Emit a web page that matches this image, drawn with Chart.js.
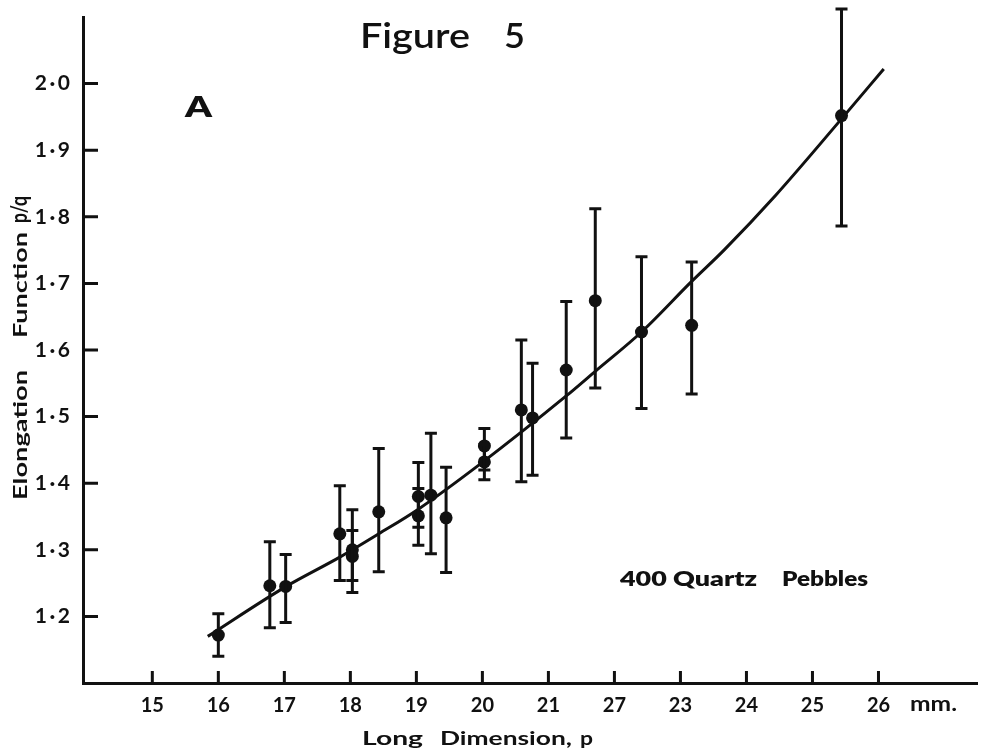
<!DOCTYPE html>
<html>
<head>
<meta charset="utf-8">
<title>Figure 5</title>
<script src="https://cdn.jsdelivr.net/npm/chart.js@4.4.1/dist/chart.umd.min.js"></script>
<style>
  html, body { margin: 0; padding: 0; background: #ffffff; }
  #wrap { position: relative; width: 984px; height: 753px; }
  canvas { display: block; }
</style>
</head>
<body>
<div id="wrap"><canvas id="chart" width="984" height="753"></canvas></div>
<script>
// Pebble groups: long dimension p (mm), mean elongation p/q, and range of each group
const pebbleP    = [16.00, 16.78, 17.02, 17.84, 18.03, 18.03, 18.43, 19.03, 19.03, 19.22, 19.45, 20.03, 20.03, 20.59, 20.76, 21.27, 21.71, 22.41, 23.17, 25.44];
const pebbleMean = [1.172, 1.246, 1.245, 1.324, 1.300, 1.290, 1.357, 1.380, 1.351, 1.382, 1.348, 1.456, 1.432, 1.510, 1.498, 1.570, 1.674, 1.627, 1.637, 1.952];
const pebbleLow  = [1.140, 1.183, 1.191, 1.254, 1.254, 1.236, 1.267, 1.334, 1.307, 1.294, 1.266, 1.420, 1.405, 1.402, 1.412, 1.468, 1.543, 1.512, 1.534, 1.786];
const pebbleHigh = [1.204, 1.312, 1.293, 1.396, 1.360, 1.329, 1.452, 1.431, 1.392, 1.475, 1.424, 1.482, 1.458, 1.615, 1.580, 1.673, 1.812, 1.740, 1.732, 2.112];

// Fitted trend of elongation against long dimension
const trendP = [15.84, 17.01, 17.84, 18.43, 19.03, 19.97, 21.27, 21.71, 22.41, 23.17, 23.66, 24.44, 25.44, 26.08];
const trendE = [1.170, 1.244, 1.289, 1.324, 1.361, 1.429, 1.531, 1.568, 1.627, 1.703, 1.750, 1.832, 1.947, 2.022];

// Axis ticks and their printed labels
const xTickValues = [15, 16, 17, 18, 19, 20, 21, 22, 23, 24, 25, 26];
const xTickLabels = ['15', '16', '17', '18', '19', '20', '21', '27', '23', '24', '25', '26'];
const yTickValues = [1.2, 1.3, 1.4, 1.5, 1.6, 1.7, 1.8, 1.9, 2.0];
const yTickLabels = ['1·2', '1·3', '1·4', '1·5', '1·6', '1·7', '1·8', '1·9', '2·0'];

const FONT = 'Lato, "DejaVu Sans", sans-serif';
const INK = '#111111';

// Draw a word stretched horizontally so it runs from x0 to x1 on the given baseline
function drawWide(ctx, text, x0, x1, baseline, font) {
  ctx.save();
  ctx.font = font;
  ctx.textAlign = 'left';
  ctx.textBaseline = 'alphabetic';
  const w = ctx.measureText(text).width;
  ctx.translate(x0, baseline);
  ctx.scale((x1 - x0) / w, 1);
  ctx.fillText(text, 0, 0);
  ctx.restore();
}

// Range bars with end caps, drawn through the chart's own scales
const rangeBars = {
  id: 'rangeBars',
  afterDatasetsDraw(chart) {
    const { ctx, scales: { x, y } } = chart;
    ctx.save();
    ctx.strokeStyle = INK;
    ctx.lineWidth = 3;
    ctx.lineCap = 'butt';
    for (let i = 0; i < pebbleP.length; i++) {
      const px = x.getPixelForValue(pebbleP[i]);
      const top = y.getPixelForValue(pebbleHigh[i]);
      const bot = y.getPixelForValue(pebbleLow[i]);
      ctx.beginPath();
      ctx.moveTo(px, top);
      ctx.lineTo(px, bot);
      ctx.moveTo(px - 6, top);
      ctx.lineTo(px + 6, top);
      ctx.moveTo(px - 6, bot);
      ctx.lineTo(px + 6, bot);
      ctx.stroke();
    }
    ctx.restore();
  }
};

// Inward tick marks and the figure's lettering
const frameText = {
  id: 'frameText',
  afterDraw(chart) {
    const { ctx, chartArea: a, scales: { x, y } } = chart;
    ctx.save();
    ctx.strokeStyle = INK;
    ctx.lineWidth = 3;
    ctx.beginPath();
    xTickValues.forEach(v => {
      const px = x.getPixelForValue(v);
      ctx.moveTo(px, a.bottom);
      ctx.lineTo(px, a.bottom - 12);
    });
    yTickValues.forEach(v => {
      const py = y.getPixelForValue(v);
      ctx.moveTo(a.left, py);
      ctx.lineTo(a.left + 15, py);
    });
    ctx.stroke();

    ctx.fillStyle = INK;

    // heading and panel letter
    drawWide(ctx, 'Figure', 360, 470, 48, '600 34px ' + FONT);
    drawWide(ctx, '5', 504, 525, 48, '600 34px ' + FONT);
    drawWide(ctx, 'A', 185, 212, 117, '800 28px ' + FONT);

    // sample note
    drawWide(ctx, '400 Quartz', 620, 757, 586, '800 21px ' + FONT);
    drawWide(ctx, 'Pebbles', 782, 868, 586, '800 21px ' + FONT);

    // unit after the last tick label
    drawWide(ctx, 'mm.', 910, 957, 711, '700 20px ' + FONT);

    // x axis title
    const tf = '700 18px ' + FONT;
    drawWide(ctx, 'Long', 362, 423, 745, tf);
    drawWide(ctx, 'Dimension,', 440, 572, 745, tf);
    drawWide(ctx, 'p', 580, 593, 745, tf);

    // y axis title, read bottom to top
    ctx.translate(27, 0);
    ctx.rotate(-Math.PI / 2);
    drawWide(ctx, 'Elongation', -500, -370, 0, tf);
    drawWide(ctx, 'Function', -338, -232, 0, tf);
    drawWide(ctx, 'p/q', -223, -196, 0, '700 23px ' + FONT);
    ctx.restore();
  }
};

new Chart(document.getElementById('chart'), {
  type: 'scatter',
  data: {
    datasets: [
      {
        label: 'trend',
        data: trendP.map((p, i) => ({ x: p, y: trendE[i] })),
        showLine: true,
        borderColor: INK,
        borderWidth: 3,
        pointRadius: 0,
        cubicInterpolationMode: 'monotone',
        clip: false,
        order: 2
      },
      {
        label: 'pebbles',
        data: pebbleP.map((p, i) => ({ x: p, y: pebbleMean[i] })),
        showLine: false,
        pointRadius: 6.5,
        pointBackgroundColor: INK,
        pointBorderColor: INK,
        pointBorderWidth: 0,
        clip: false,
        order: 1
      }
    ]
  },
  options: {
    responsive: false,
    animation: false,
    events: [],
    layout: { padding: { top: 17, right: 0, bottom: 0, left: 0 } },
    plugins: {
      legend: { display: false },
      title: { display: false },
      tooltip: { enabled: false }
    },
    scales: {
      x: {
        type: 'linear',
        min: 13.95,
        max: 27.5,
        afterFit(scale) {
          scale.height = 70;
          scale.paddingLeft = 0;
          scale.paddingRight = 0;
        },
        afterBuildTicks(scale) { scale.ticks = xTickValues.map(v => ({ value: v })); },
        grid: { display: false, drawTicks: false },
        border: { display: true, color: INK, width: 3 },
        ticks: {
          color: INK,
          font: { family: FONT, size: 20, weight: '700' },
          padding: 11,
          maxRotation: 0,
          autoSkip: false,
          callback: (v, i) => xTickLabels[i]
        }
      },
      y: {
        type: 'linear',
        min: 1.1,
        max: 2.1,
        afterFit(scale) {
          scale.width = 83;
          scale.paddingTop = 0;
          scale.paddingBottom = 0;
        },
        afterBuildTicks(scale) { scale.ticks = yTickValues.map(v => ({ value: v })); },
        grid: { display: false, drawTicks: false },
        border: { display: true, color: INK, width: 3 },
        ticks: {
          color: INK,
          font: { family: FONT, size: 21, weight: '700' },
          padding: 13,
          autoSkip: false,
          callback: (v, i) => yTickLabels[i].replace('·', '\u2009·\u2009')
        }
      }
    }
  },
  plugins: [rangeBars, frameText]
});
</script>
</body>
</html>
